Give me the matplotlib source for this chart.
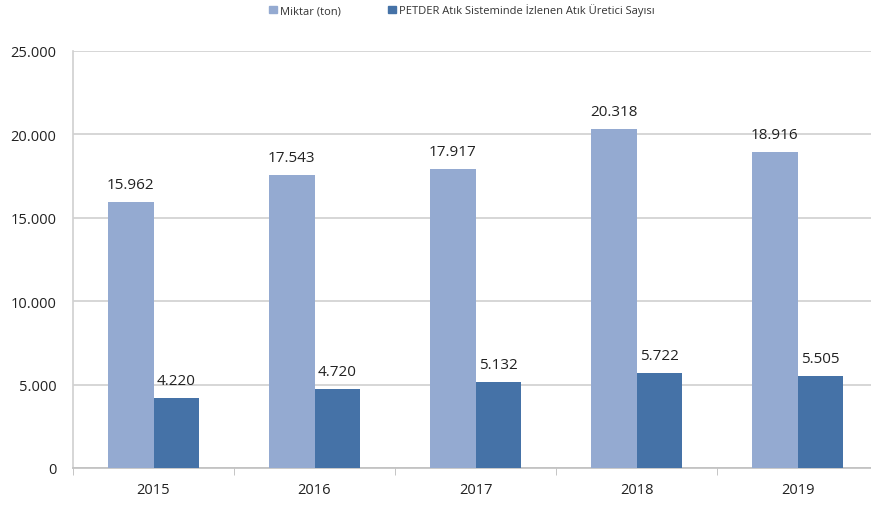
import numpy as np
import matplotlib.pyplot as plt
from matplotlib.patches import Patch

years = ['2015', '2016', '2017', '2018', '2019']
miktar = [15962, 17543, 17917, 20318, 18916]
uretici = [4220, 4720, 5132, 5722, 5505]
yticks = [0, 5000, 10000, 15000, 20000, 25000]
ytick_labels = ['0', '5.000', '10.000', '15.000', '20.000', '25.000']
leg_labels = ['Miktar (ton)', 'PETDER Atık Sisteminde İzlenen Atık Üretici Sayısı']

c_light = '#94aad1'
c_dark = '#4572a7'

plt.rcParams['font.family'] = ['Open Sans', 'DejaVu Sans']

fig = plt.figure(figsize=(8.71, 5.06), dpi=100)
ax = fig.add_axes([73/871, 37/506, 805/871, 417/506])

x = np.arange(len(years))
w = 0.285
ax.bar(x - w/2, miktar, w, color=c_light, zorder=3)
ax.bar(x + w/2, uretici, w, color=c_dark, zorder=3)

def fmt(v):
    return f'{v:,}'.replace(',', '.')

for i in range(len(years)):
    ax.text(x[i] - w/2, miktar[i] + 600, fmt(miktar[i]), ha='center', va='bottom',
            fontsize=11, color='#222222')
    ax.text(x[i] + w/2, uretici[i] + 600, fmt(uretici[i]), ha='center', va='bottom',
            fontsize=11, color='#222222')

ax.set_xlim(-0.5, len(years) - 0.5)
ax.set_ylim(0, 25000)
ax.set_yticks(yticks)
ax.set_yticklabels(ytick_labels, fontsize=10.5, color='#222222')
ax.set_xticks(x)
ax.set_xticklabels(years, fontsize=10.5, color='#222222')
ax.tick_params(axis='x', length=0, pad=10)
ax.set_xticks(np.arange(len(years) + 1) - 0.5, minor=True)
ax.tick_params(axis='x', which='minor', length=5, color='#bbbbbb', direction='out')
ax.tick_params(axis='y', length=0, pad=12)
ax.yaxis.grid(True, color='#d0d0d0', linewidth=1.2, zorder=0)
for s in ['top', 'right']:
    ax.spines[s].set_visible(False)
ax.spines['left'].set_color('#d0d0d0')
ax.spines['bottom'].set_color('#c0c0c0')
ax.spines['left'].set_linewidth(1.2)
ax.spines['bottom'].set_linewidth(1.2)

handles = [Patch(color=c_light), Patch(color=c_dark)]
fig.legend(handles, leg_labels, loc='center', bbox_to_anchor=(462/871, 1 - 11/506),
           ncol=2, frameon=False, fontsize=8, handlelength=0.7, handleheight=0.7,
           handletextpad=0.3, columnspacing=4.2, labelcolor='#333333')

fig.savefig('out.png', dpi=100)
